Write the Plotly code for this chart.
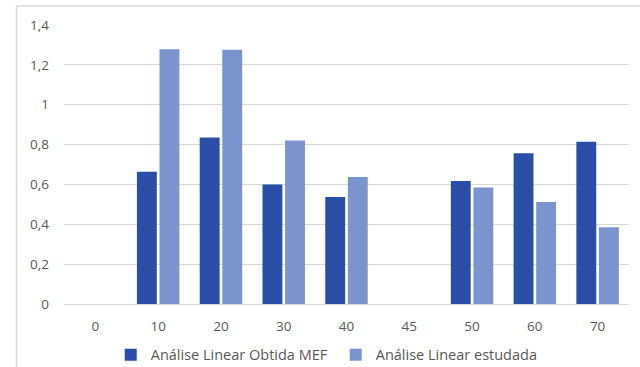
import plotly.graph_objects as go

categories = ["0", "10", "20", "30", "40", "45", "50", "60", "70"]
mef_values = [0, 0.664, 0.836, 0.60, 0.537, 0, 0.617, 0.756, 0.814]
estudada_values = [0, 1.278, 1.276, 0.821, 0.637, 0, 0.584, 0.512, 0.385]
y_ticks = [0, 0.2, 0.4, 0.6, 0.8, 1.0, 1.2, 1.4]
y_tick_text = ["0", "0,2", "0,4", "0,6", "0,8", "1", "1,2", "1,4"]

font_family = "Open Sans, DejaVu Sans, sans-serif"
label_color = "#595959"

fig = go.Figure()
fig.add_trace(go.Bar(
    x=categories, y=mef_values, name="Análise Linear Obtida MEF",
    marker=dict(color="#2A4EA6", line=dict(width=0)),
))
fig.add_trace(go.Bar(
    x=categories, y=estudada_values, name="Análise Linear estudada",
    marker=dict(color="#7C94CE", line=dict(width=0)),
))

fig.update_layout(
    width=640, height=367,
    margin=dict(l=64, r=11, t=25, b=63, autoexpand=False),
    paper_bgcolor="white", plot_bgcolor="white",
    barmode="group", bargap=0.28, bargroupgap=0.12,
    font=dict(family=font_family, size=13, color=label_color),
    showlegend=True,
    legend=dict(
        orientation="h", xref="container", yref="container",
        x=0.173, xanchor="left", y=0.033, yanchor="middle",
        font=dict(size=14.5, color=label_color),
        itemwidth=30, tracegroupgap=0, entrywidth=180,
    ),
    xaxis=dict(
        type="category", showgrid=False, zeroline=False, showline=False,
        ticks="", ticklabelstandoff=12, automargin=False,
        tickfont=dict(size=13.5, color=label_color),
    ),
    yaxis=dict(
        range=[0, 1.4], tickvals=y_ticks, ticktext=y_tick_text,
        showgrid=True, gridcolor="#D9D9D9", gridwidth=1,
        zeroline=True, zerolinecolor="#D9D9D9", zerolinewidth=1,
        showline=False, ticks="", ticklabelstandoff=14, automargin=False,
        tickfont=dict(size=13.5, color=label_color),
    ),
    shapes=[
        # chart-area frame (left and top edges)
        dict(type="line", xref="paper", yref="paper",
             x0=-0.084, x1=1.03, y0=1.068, y1=1.068,
             line=dict(color="#D9D9D9", width=1.5)),
        dict(type="line", xref="paper", yref="paper",
             x0=-0.084, x1=-0.084, y0=1.068, y1=-0.3,
             line=dict(color="#D9D9D9", width=1.5)),
    ],
)

fig.write_html("out.html")
